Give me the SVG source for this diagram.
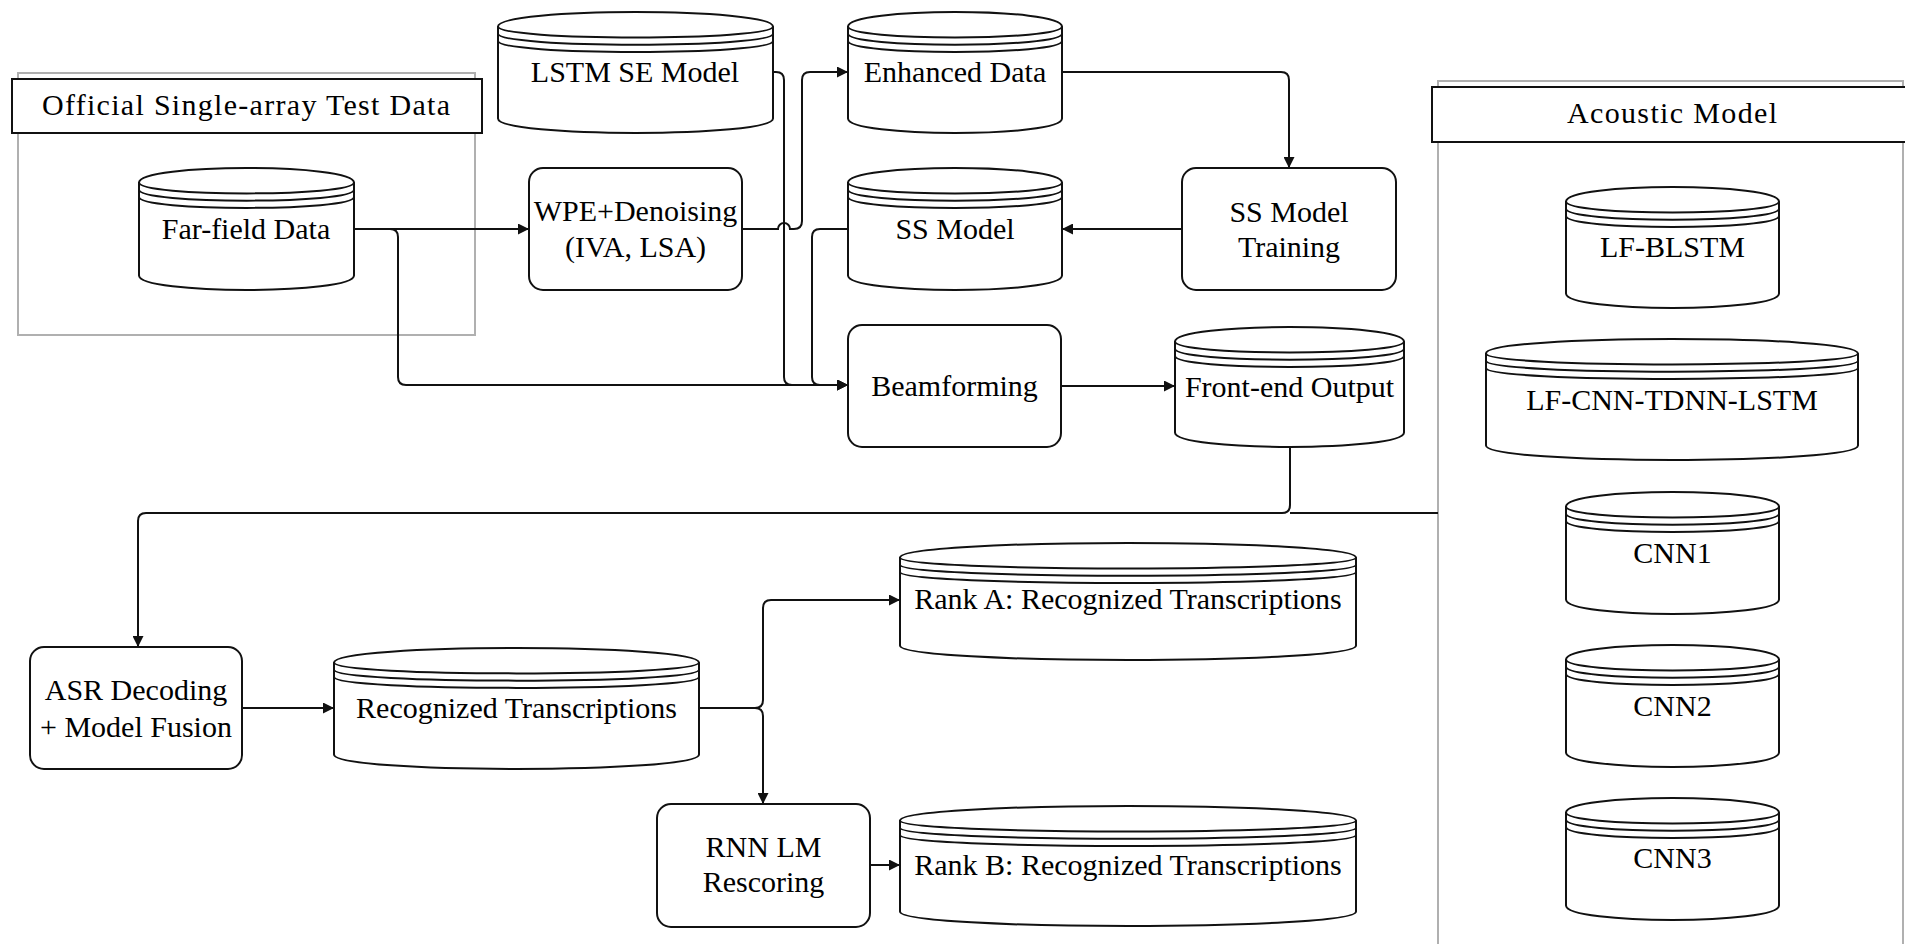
<svg xmlns="http://www.w3.org/2000/svg" width="1905" height="944" viewBox="0 0 1905 944">
<style>
.bg{fill:#fff}
.cont{fill:none;stroke:#b0b0b0;stroke-width:2}
.title{fill:#fff;stroke:#111;stroke-width:2}
.box{fill:#fff;stroke:#111;stroke-width:2}
.cyl{fill:#fff;stroke:#111;stroke-width:2}
.rim{fill:none;stroke:#111;stroke-width:2}
.edge{fill:none;stroke:#111;stroke-width:2}
.arr{fill:none;stroke:#111;stroke-width:2;marker-end:url(#ah)}
text{font-family:"Liberation Serif","Times New Roman",serif;font-size:30px;fill:#000;text-anchor:middle}
</style>
<defs>
<marker id="ah" viewBox="0 0 10 10" refX="10" refY="5" markerWidth="11" markerHeight="11" markerUnits="userSpaceOnUse" orient="auto">
<path d="M0,0 L10,5 L0,10 Z" fill="#111"/>
</marker>
</defs>
<rect class="bg" x="0" y="0" width="1905" height="944"/>

<g id="official-container">
<rect class="cont" x="18" y="73" width="457" height="262"/>
<rect class="title" x="12" y="79" width="470" height="54"/>
<text x="246" y="115" textLength="408">Official Single-array Test Data</text>
</g>

<g id="acoustic-container">
<rect class="cont" x="1438" y="81" width="465" height="900"/>
<rect class="title" x="1432" y="87" width="500" height="55"/>
<text x="1672" y="123" textLength="210">Acoustic Model</text>
</g>

<g id="connectors">
<path class="arr" d="M354,229 H529"/>
<path class="arr" d="M390,229 Q398,229 398,237 V377 Q398,385 406,385 H848"/>
<path class="arr" d="M773,72 H776 Q784,72 784,80 V377 Q784,385 792,385 H848"/>
<path class="arr" d="M742,229 H778 A6,6 0 0 1 790,229 H794 Q802,229 802,221 V80 Q802,72 810,72 H848"/>
<path class="arr" d="M848,229 H820 Q812,229 812,237 V377 Q812,385 820,385 H848"/>
<path class="arr" d="M1062,72 H1281 Q1289,72 1289,80 V168"/>
<path class="arr" d="M1182,229 H1062"/>
<path class="arr" d="M1061,386 H1175"/>
<path class="arr" d="M1290,447 V505 Q1290,513 1282,513 H146 Q138,513 138,521 V647"/>
<path class="edge" d="M1438,513 H1290"/>
<path class="arr" d="M242,708 H334"/>
<path class="arr" d="M699,708 H755 Q763,708 763,700 V608 Q763,600 771,600 H900"/>
<path class="arr" d="M755,708 Q763,708 763,716 V804"/>
<path class="arr" d="M870,865 H900"/>
</g>

<g id="far-field-data">
<path class="cyl" d="M139,182.5 C139,163.2 354,163.2 354,182.5 L354,275.5 C354,294.8 139,294.8 139,275.5 Z"/>
<path class="rim" d="M139,182.5 C139,197 354,197 354,182.5 M139,189.75 C139,204.25 354,204.25 354,189.75 M139,197 C139,211.5 354,211.5 354,197"/>
<text x="246" y="239">Far-field Data</text>
</g>

<g id="lstm-se-model">
<path class="cyl" d="M498,26.5 C498,7.2 773,7.2 773,26.5 L773,118.5 C773,137.8 498,137.8 498,118.5 Z"/>
<path class="rim" d="M498,26.5 C498,41 773,41 773,26.5 M498,33.75 C498,48.25 773,48.25 773,33.75 M498,41 C498,55.5 773,55.5 773,41"/>
<text x="635" y="82">LSTM SE Model</text>
</g>

<g id="enhanced-data">
<path class="cyl" d="M848,26.5 C848,7.2 1062,7.2 1062,26.5 L1062,118.5 C1062,137.8 848,137.8 848,118.5 Z"/>
<path class="rim" d="M848,26.5 C848,41 1062,41 1062,26.5 M848,33.75 C848,48.25 1062,48.25 1062,33.75 M848,41 C848,55.5 1062,55.5 1062,41"/>
<text x="955" y="82">Enhanced Data</text>
</g>

<g id="ss-model">
<path class="cyl" d="M848,182.5 C848,163.2 1062,163.2 1062,182.5 L1062,275.5 C1062,294.8 848,294.8 848,275.5 Z"/>
<path class="rim" d="M848,182.5 C848,197 1062,197 1062,182.5 M848,189.75 C848,204.25 1062,204.25 1062,189.75 M848,197 C848,211.5 1062,211.5 1062,197"/>
<text x="955" y="239">SS Model</text>
</g>

<g id="wpe-denoising">
<rect class="box" x="529" y="168" width="213" height="122" rx="14"/>
<text x="635.5" y="221">WPE+Denoising</text>
<text x="635.5" y="257">(IVA, LSA)</text>
</g>

<g id="ss-model-training">
<rect class="box" x="1182" y="168" width="214" height="122" rx="14"/>
<text x="1289" y="222">SS Model</text>
<text x="1289" y="257">Training</text>
</g>

<g id="beamforming">
<rect class="box" x="848" y="325" width="213" height="122" rx="14"/>
<text x="954.5" y="396">Beamforming</text>
</g>

<g id="front-end-output">
<path class="cyl" d="M1175,341.5 C1175,322.2 1404,322.2 1404,341.5 L1404,432.5 C1404,451.8 1175,451.8 1175,432.5 Z"/>
<path class="rim" d="M1175,341.5 C1175,356 1404,356 1404,341.5 M1175,348.75 C1175,363.25 1404,363.25 1404,348.75 M1175,356 C1175,370.5 1404,370.5 1404,356"/>
<text x="1289.5" y="397">Front-end Output</text>
</g>

<g id="asr-decoding">
<rect class="box" x="30" y="647" width="212" height="122" rx="14"/>
<text x="136" y="700">ASR Decoding</text>
<text x="136" y="737">+ Model Fusion</text>
</g>

<g id="recognized-transcriptions">
<path class="cyl" d="M334,662.5 C334,643.2 699,643.2 699,662.5 L699,754.5 C699,773.8 334,773.8 334,754.5 Z"/>
<path class="rim" d="M334,662.5 C334,677 699,677 699,662.5 M334,669.75 C334,684.25 699,684.25 699,669.75 M334,677 C334,691.5 699,691.5 699,677"/>
<text x="516.5" y="718">Recognized Transcriptions</text>
</g>

<g id="rank-a">
<path class="cyl" d="M900,557.5 C900,538.2 1356,538.2 1356,557.5 L1356,645.5 C1356,664.8 900,664.8 900,645.5 Z"/>
<path class="rim" d="M900,557.5 C900,572 1356,572 1356,557.5 M900,564.75 C900,579.25 1356,579.25 1356,564.75 M900,572 C900,586.5 1356,586.5 1356,572"/>
<text x="1128" y="609">Rank A: Recognized Transcriptions</text>
</g>

<g id="rnn-lm-rescoring">
<rect class="box" x="657" y="804" width="213" height="123" rx="14"/>
<text x="763.5" y="857">RNN LM</text>
<text x="763.5" y="892">Rescoring</text>
</g>

<g id="rank-b">
<path class="cyl" d="M900,820.5 C900,801.2 1356,801.2 1356,820.5 L1356,911.5 C1356,930.8 900,930.8 900,911.5 Z"/>
<path class="rim" d="M900,820.5 C900,835 1356,835 1356,820.5 M900,827.75 C900,842.25 1356,842.25 1356,827.75 M900,835 C900,849.5 1356,849.5 1356,835"/>
<text x="1128" y="875">Rank B: Recognized Transcriptions</text>
</g>

<g id="lf-blstm">
<path class="cyl" d="M1566,201.5 C1566,182.2 1779,182.2 1779,201.5 L1779,293.5 C1779,312.8 1566,312.8 1566,293.5 Z"/>
<path class="rim" d="M1566,201.5 C1566,216 1779,216 1779,201.5 M1566,208.75 C1566,223.25 1779,223.25 1779,208.75 M1566,216 C1566,230.5 1779,230.5 1779,216"/>
<text x="1672.5" y="257">LF-BLSTM</text>
</g>

<g id="lf-cnn-tdnn-lstm">
<path class="cyl" d="M1486,353.5 C1486,334.2 1858,334.2 1858,353.5 L1858,445.5 C1858,464.8 1486,464.8 1486,445.5 Z"/>
<path class="rim" d="M1486,353.5 C1486,368 1858,368 1858,353.5 M1486,360.75 C1486,375.25 1858,375.25 1858,360.75 M1486,368 C1486,382.5 1858,382.5 1858,368"/>
<text x="1672" y="410">LF-CNN-TDNN-LSTM</text>
</g>

<g id="cnn1">
<path class="cyl" d="M1566,506.5 C1566,487.2 1779,487.2 1779,506.5 L1779,599.5 C1779,618.8 1566,618.8 1566,599.5 Z"/>
<path class="rim" d="M1566,506.5 C1566,521 1779,521 1779,506.5 M1566,513.75 C1566,528.25 1779,528.25 1779,513.75 M1566,521 C1566,535.5 1779,535.5 1779,521"/>
<text x="1672.5" y="563">CNN1</text>
</g>

<g id="cnn2">
<path class="cyl" d="M1566,659.5 C1566,640.2 1779,640.2 1779,659.5 L1779,752.5 C1779,771.8 1566,771.8 1566,752.5 Z"/>
<path class="rim" d="M1566,659.5 C1566,674 1779,674 1779,659.5 M1566,666.75 C1566,681.25 1779,681.25 1779,666.75 M1566,674 C1566,688.5 1779,688.5 1779,674"/>
<text x="1672.5" y="716">CNN2</text>
</g>

<g id="cnn3">
<path class="cyl" d="M1566,812.5 C1566,793.2 1779,793.2 1779,812.5 L1779,905.5 C1779,924.8 1566,924.8 1566,905.5 Z"/>
<path class="rim" d="M1566,812.5 C1566,827 1779,827 1779,812.5 M1566,819.75 C1566,834.25 1779,834.25 1779,819.75 M1566,827 C1566,841.5 1779,841.5 1779,827"/>
<text x="1672.5" y="868">CNN3</text>
</g>
</svg>
